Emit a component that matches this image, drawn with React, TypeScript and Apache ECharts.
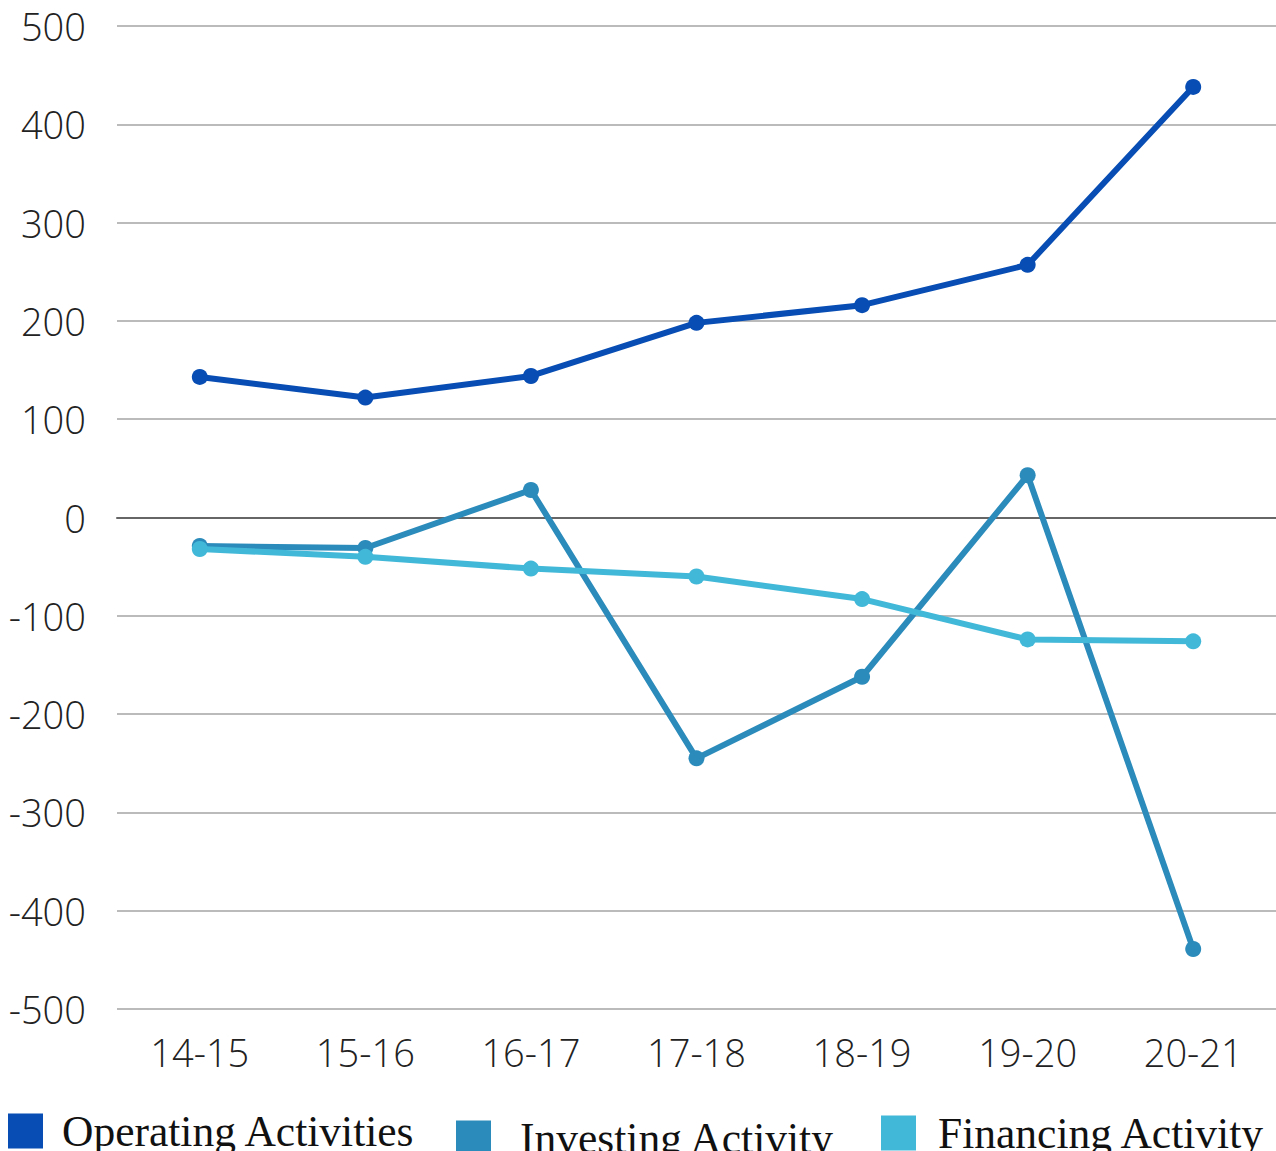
import React, { useEffect, useRef } from "react";
import * as echarts from "echarts";

// Fiscal years
const years = ["14-15", "15-16", "16-17", "17-18", "18-19", "19-20", "20-21"];

// Cash flow by activity
const operating = [143, 122, 144, 198, 216, 257, 438];
const investing = [-29, -31, 28, -245, -162, 43, -439];
const financing = [-32, -40, -52, -60, -83, -124, -126];

const seriesNames = ["Operating Activities", "Investing Activity", "Financing Activity"];
const colors = ["#074db3", "#2b8bbb", "#42b8d8"];

const axisFont = "'Open Sans', 'Noto Sans', sans-serif";
const legendFont = "'Liberation Serif', 'DejaVu Serif', serif";

export default function App() {
  const ref = useRef<HTMLDivElement>(null);

  useEffect(() => {
    if (!ref.current) return;
    const chart = echarts.init(ref.current, null, { renderer: "svg" });

    // each legend entry sits on its own baseline
    const legendPos = [
      { left: 8, top: 1109, gap: 14, lift: 0 },
      { left: 456, top: 1116, gap: 24, lift: 6 },
      { left: 881, top: 1111, gap: 17, lift: 0 },
    ];

    const data = [operating, investing, financing];

    chart.setOption({
      animation: false,
      backgroundColor: "#ffffff",
      grid: { left: 117, width: 1162, top: 26, height: 983, containLabel: false },
      legend: seriesNames.map((name, i) => ({
        data: [name],
        left: legendPos[i].left,
        top: legendPos[i].top,
        padding: 0,
        itemWidth: 35,
        itemHeight: 35,
        icon: "rect",
        selectedMode: false,
        textStyle: {
          fontFamily: legendFont,
          fontSize: 43.5,
          color: "#111",
          padding: [0, 0, legendPos[i].lift, legendPos[i].gap],
        },
      })),
      xAxis: {
        type: "category",
        data: years,
        boundaryGap: true,
        axisLine: { onZero: true, lineStyle: { color: "#666", width: 2 } },
        axisTick: { show: false },
        axisLabel: {
          fontFamily: axisFont,
          fontWeight: 300,
          fontSize: 38,
          color: "#222",
          margin: 0,
          padding: [24, 0, 0, 0],
        },
        splitLine: { show: false },
      },
      yAxis: {
        type: "value",
        min: -500,
        max: 500,
        interval: 100,
        axisLine: { show: false },
        axisTick: { show: false },
        axisLabel: {
          fontFamily: axisFont,
          fontWeight: 300,
          fontSize: 38,
          color: "#222",
          margin: 31,
        },
        splitLine: { lineStyle: { color: "#bbbbbb", width: 2 } },
      },
      series: seriesNames.map((name, i) => ({
        name,
        type: "line",
        data: data[i],
        color: colors[i],
        symbol: "circle",
        symbolSize: 16,
        lineStyle: { width: 6, color: colors[i] },
        itemStyle: { color: colors[i] },
        z: 3 + i,
      })),
    });

    return () => chart.dispose();
  }, []);

  return (
    <div
      ref={ref}
      style={{ position: "fixed", left: 0, top: 0, width: 1276, height: 1151 }}
    />
  );
}
